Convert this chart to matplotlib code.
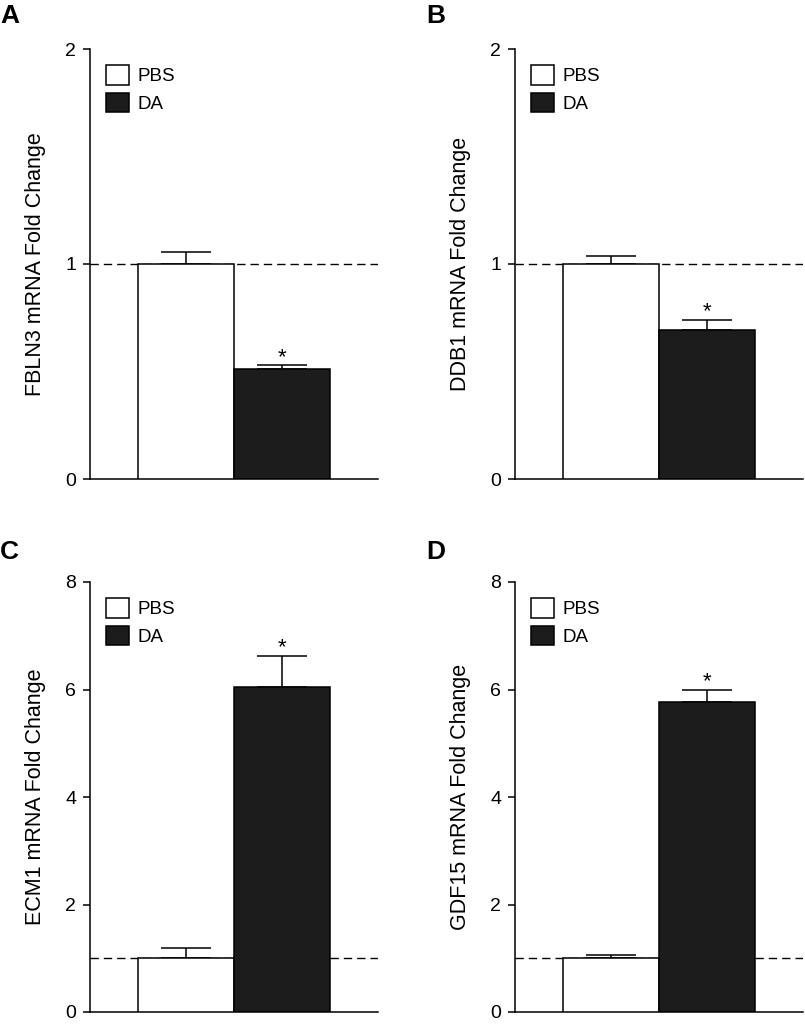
import matplotlib
matplotlib.use("Agg")
import matplotlib.pyplot as plt
import numpy as np

plt.rcParams['font.family'] = ['Liberation Sans', 'DejaVu Sans']

groups = ["PBS", "DA"]
panel_letters = ["A", "B", "C", "D"]
genes = ["FBLN3", "DDB1", "ECM1", "GDF15"]

# mean fold change and upper SEM for each panel, PBS then DA
means = [
    [1.00, 0.51],
    [1.00, 0.695],
    [1.00, 6.05],
    [1.00, 5.77],
]
errors = [
    [0.055, 0.018],
    [0.035, 0.045],
    [0.20, 0.58],
    [0.066, 0.23],
]
y_max = [2, 2, 8, 8]
y_ticks = [[0, 1, 2], [0, 1, 2], [0, 2, 4, 6, 8], [0, 2, 4, 6, 8]]
significant = [[False, True], [False, True], [False, True], [False, True]]

bar_colors = ["white", "#1c1c1c"]

W, H = 805, 1025
fig = plt.figure(figsize=(W / 100, H / 100), dpi=100)

# pixel boxes: (left, top) of each axes
origins = [(90, 49), (515, 49), (90, 582), (515, 582)]
ax_w, ax_h = 288, 430
letter_pos = [(0, 4), (426, 4), (0, 540), (426, 540)]

for i in range(4):
    left, top = origins[i]
    ax = fig.add_axes([left / W, 1 - (top + ax_h) / H, ax_w / W, ax_h / H])
    x = np.arange(len(groups))

    ax.axhline(1, color="black", lw=1.0, dashes=(6, 3.6), zorder=1)
    bars = []
    for j in range(len(groups)):
        b = ax.bar(x[j], means[i][j], width=1.0, color=bar_colors[j],
                   edgecolor="black", linewidth=1.1, zorder=3, label=groups[j])
        bars.append(b)
    ax.errorbar(x, means[i], yerr=[np.zeros(len(groups)), errors[i]], fmt="none",
                ecolor="black", elinewidth=1.1, capsize=18, capthick=1.1, zorder=2)

    for j in range(len(groups)):
        if significant[i][j]:
            ax.annotate("*", (x[j], means[i][j] + errors[i][j]), xytext=(0, 2),
                        textcoords="offset points", ha="center", va="baseline",
                        fontsize=16)

    ax.set_xlim(-1.0, 2.0)
    ax.set_ylim(0, y_max[i])
    ax.set_yticks(y_ticks[i])
    ax.set_xticks([])
    ax.spines["top"].set_visible(False)
    ax.spines["right"].set_visible(False)
    ax.spines["left"].set_linewidth(1.1)
    ax.spines["bottom"].set_linewidth(1.1)
    ax.tick_params(axis="y", direction="out", length=5, width=1.1, pad=5, labelsize=14)
    ax.set_ylabel(genes[i] + " mRNA Fold Change", fontsize=15.5, va="center")
    ax.yaxis.set_label_coords(-55 / ax_w, 0.5)

    ax.legend(handles=[b for b in bars], loc="upper left", frameon=False,
              fontsize=13.5, handlelength=1.23, handleheight=1.25,
              handletextpad=0.43, labelspacing=0.4, borderpad=0,
              borderaxespad=0.85)

    lx, ly = letter_pos[i]
    fig.text(lx / W, 1 - ly / H, panel_letters[i], fontsize=19, fontweight="bold",
             ha="left", va="top")

fig.savefig("out.png", dpi=100)
